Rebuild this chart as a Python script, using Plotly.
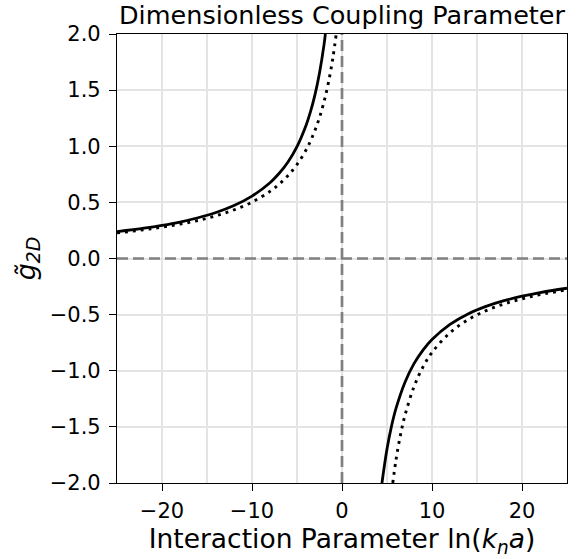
import plotly.graph_objects as go

# Solid curve, left branch and right branch
solid_left_x = [-25, -22, -20, -18, -16, -14, -12, -10, -8, -7, -6, -5, -4, -3.5, -3, -2.5, -2, -1.85]
solid_left_y = [0.239, 0.270, 0.295, 0.325, 0.363, 0.410, 0.472, 0.556, 0.675, 0.757, 0.860, 0.997, 1.185, 1.308, 1.460, 1.653, 1.903, 2.0]
solid_right_x = [4.44, 5, 5.5, 6, 7, 8, 9, 10, 12, 14, 16, 18, 20, 22, 25]
solid_right_y = [-2.0, -1.697, -1.495, -1.336, -1.102, -0.937, -0.816, -0.722, -0.587, -0.494, -0.427, -0.376, -0.336, -0.303, -0.265]

# Dotted curve
dot_left_x = [-25, -22, -20, -18, -16, -14, -12, -10, -8, -7, -6, -5, -4, -3.5, -3, -2.5, -2, -1.5, -1, -0.64]
dot_left_y = [0.228, 0.256, 0.279, 0.306, 0.339, 0.381, 0.433, 0.502, 0.598, 0.661, 0.739, 0.837, 0.966, 1.047, 1.142, 1.256, 1.396, 1.570, 1.794, 2.0]
dot_right_x = [5.64, 6, 6.5, 7, 8, 9, 10, 12, 14, 16, 18, 20, 22, 25]
dot_right_y = [-2.0, -1.794, -1.570, -1.396, -1.142, -0.966, -0.837, -0.661, -0.546, -0.465, -0.405, -0.359, -0.322, -0.279]

x_range = [-25, 25]
y_range = [-2, 2]
x_ticks = [-20, -10, 0, 10, 20]
y_ticks = [-2.0, -1.5, -1.0, -0.5, 0.0, 0.5, 1.0, 1.5, 2.0]

fig = go.Figure()
gray = "#808080"
fig.add_trace(go.Scatter(x=x_range, y=[0, 0], mode="lines",
                         line=dict(color=gray, width=2.7, dash="11px,5px"), showlegend=False))
fig.add_trace(go.Scatter(x=[0, 0], y=y_range, mode="lines",
                         line=dict(color=gray, width=2.7, dash="11px,5px"), showlegend=False))
for xs, ys in [(solid_left_x, solid_left_y), (solid_right_x, solid_right_y)]:
    fig.add_trace(go.Scatter(x=xs, y=ys, mode="lines", line=dict(color="black", width=2.8, shape="spline"),
                             showlegend=False))
for xs, ys in [(dot_left_x, dot_left_y), (dot_right_x, dot_right_y)]:
    fig.add_trace(go.Scatter(x=xs, y=ys, mode="lines", line=dict(color="black", width=2.9, dash="2.9px,5px", shape="spline"),
                             showlegend=False))

font = "DejaVu Sans"
grid_color = "#e4e4e4"
fig.update_layout(
    width=577, height=559,
    margin=dict(l=117, r=10, t=34, b=76),
    plot_bgcolor="white", paper_bgcolor="white",
    font=dict(family=font, color="black", size=21),
    title=dict(text="Dimensionless Coupling Parameter", x=0.5, xref="paper", xanchor="center",
               y=1 - 15 / 559, yref="container", yanchor="middle",
               font=dict(size=25.5, family=font, color="black")),
)
fig.update_xaxes(range=x_range, tickvals=x_ticks, ticks="outside", ticklen=7, tickwidth=1.1, tickcolor="black",
                 showline=True, linecolor="black", linewidth=1.2, mirror=True,
                 showgrid=True, gridcolor=grid_color, gridwidth=2.2, zeroline=False,
                 minor=dict(dtick=5, tick0=0, showgrid=True, gridcolor=grid_color, gridwidth=2.2, ticks=""),
                 tickfont=dict(size=21), ticklabelstandoff=2,
                 title=dict(text="Interaction Parameter ln(<i>k</i><sub><i>n</i></sub><i>a</i>)", font=dict(size=26.5), standoff=6))
fig.update_yaxes(range=y_range, tickvals=y_ticks, tickformat=".1f", ticks="outside", ticklen=7, tickwidth=1.1, tickcolor="black",
                 showline=True, linecolor="black", linewidth=1.2, mirror=True,
                 showgrid=True, gridcolor=grid_color, gridwidth=2.2, zeroline=False,
                 tickfont=dict(size=21), ticklabelstandoff=4,
                 title=dict(text="<i>g̃</i><sub><i>2D</i></sub>", font=dict(size=27), standoff=6))

fig.write_html("out.html")
